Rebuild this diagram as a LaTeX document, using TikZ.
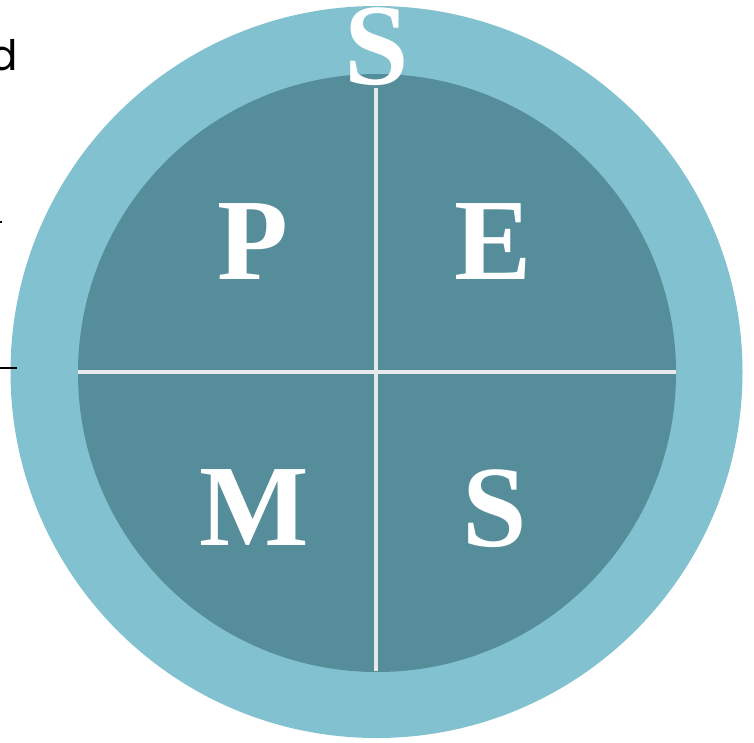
\documentclass[tikz,border=0pt]{standalone}
\usepackage{fontspec}
\setmainfont{Liberation Serif}
\newfontfamily\sidefont{Poppins}
\definecolor{outerc}{HTML}{82C1CF}
\definecolor{innerc}{HTML}{558E9A}
\definecolor{linec}{HTML}{E8E9EA}
\begin{document}
\begin{tikzpicture}[x=1pt,y=-1pt,
  letter/.style={text=white,font=\bfseries\fontsize{116}{116}\selectfont,inner sep=0pt,anchor=center},
  divider/.style={draw=linec,line width=4pt}]
\useasboundingbox (0,0) rectangle (754,742);
\fill[outerc] (376.5,372) circle (366);
\fill[innerc] (377,373) circle (299);
\coordinate (top) at (376,88);
\coordinate (bot) at (376,671);
\coordinate (lft) at (78,372);
\coordinate (rgt) at (676,372);
\draw[divider] (top) -- (bot);
\draw[divider] (lft) -- (rgt);
\node[letter] (sTop) at (377,47) {S};
\node[letter] (p) at (253,242) {P};
\node[letter] (e) at (493,242) {E};
\node[letter] (m) at (254,508) {M};
\node[letter] (s) at (495,509) {S};
\node[font=\sidefont\fontsize{42}{42}\selectfont,anchor=base east,inner sep=0pt] (d) at (18,70) {d};
\coordinate (dashA) at (0,368);
\coordinate (dashB) at (17,368);
\draw[line width=1.3pt] (dashA) -- (dashB);
\coordinate (dotA) at (0,222);
\coordinate (dotB) at (2,222);
\draw[line width=1.3pt] (dotA) -- (dotB);
\end{tikzpicture}
\end{document}
